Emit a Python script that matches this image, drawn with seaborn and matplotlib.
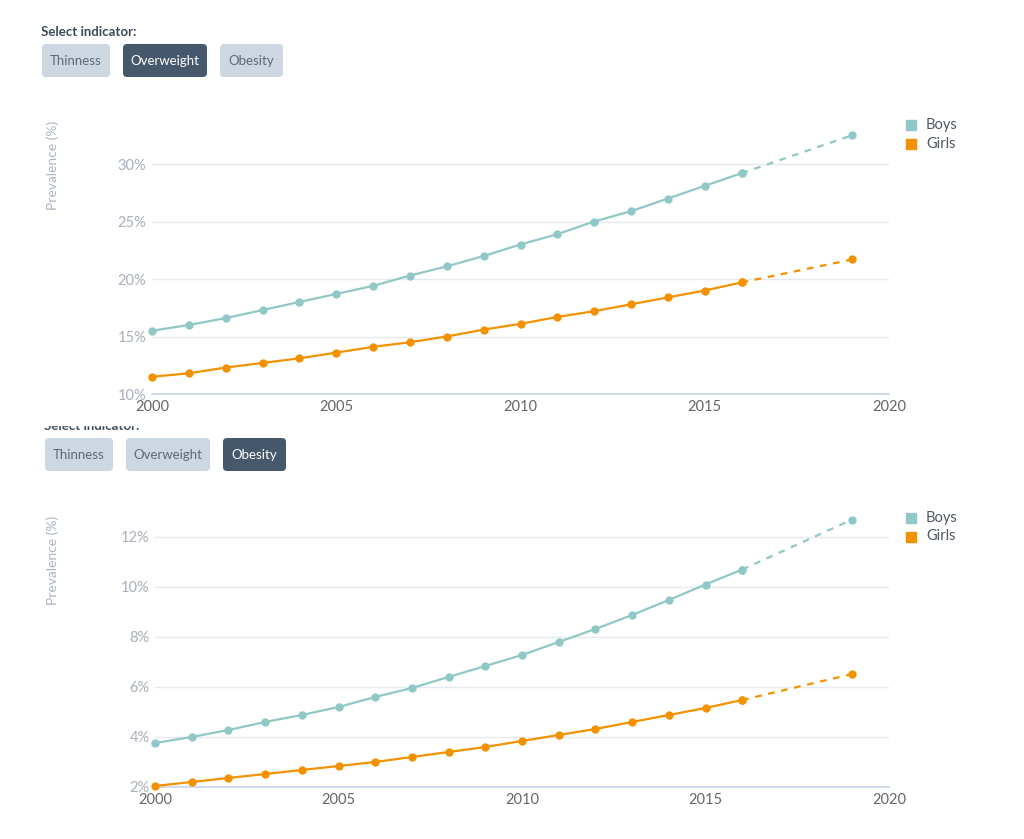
import matplotlib
matplotlib.use("Agg")
import matplotlib.pyplot as plt
import seaborn as sns
from matplotlib.patches import FancyBboxPatch, Rectangle

# data
years = list(range(2000, 2017))
proj_years = [2016, 2019]

overweight_boys = [15.5, 16.0, 16.6, 17.3, 18.0, 18.7, 19.4, 20.3, 21.1, 22.0,
                   23.0, 23.9, 25.0, 25.9, 27.0, 28.1, 29.2]
overweight_girls = [11.5, 11.8, 12.3, 12.7, 13.1, 13.6, 14.1, 14.5, 15.0, 15.6,
                    16.1, 16.7, 17.2, 17.8, 18.4, 19.0, 19.7]
overweight_boys_2019 = 32.5
overweight_girls_2019 = 21.7

obesity_boys = [3.76, 4.0, 4.28, 4.6, 4.88, 5.2, 5.6, 5.96, 6.4, 6.84,
                7.28, 7.8, 8.32, 8.88, 9.48, 10.1, 10.7]
obesity_girls = [2.04, 2.2, 2.36, 2.52, 2.68, 2.84, 3.0, 3.2, 3.4, 3.6,
                 3.84, 4.08, 4.32, 4.6, 4.88, 5.16, 5.48]
obesity_boys_2019 = 12.7
obesity_girls_2019 = 6.52

buttons = ["Thinness", "Overweight", "Obesity"]
x_ticks = [2000, 2005, 2010, 2015, 2020]
ow_ticks = [10, 15, 20, 25, 30]
ob_ticks = [2, 4, 6, 8, 10, 12]

BOYS = "#8fc8c6"
GIRLS = "#f39200"
W, H = 1024, 839

sns.set_theme(style="white")
plt.rcParams["font.family"] = ["Lato", "DejaVu Sans"]

fig = plt.figure(figsize=(W / 100, H / 100), dpi=100)


def px_box(x0, y0, x1, y1):
    # pixel rectangle (top-left origin) -> figure fraction [l, b, w, h]
    return [x0 / W, 1 - y1 / H, (x1 - x0) / W, (y1 - y0) / H]


def draw_buttons(top, left, active):
    fig.text(left / W, 1 - (top - 12) / H, "Select indicator:", fontsize=9.5,
             fontweight="bold", color="#3d4a5c", va="center", ha="left")
    x = left + 1
    widths = [68, 84, 63]
    for name, w in zip(buttons, widths):
        on = name == active
        box = FancyBboxPatch((x / 100, (H - top - 33) / 100), w / 100, 33 / 100,
                             boxstyle="round,pad=0,rounding_size=0.04",
                             transform=fig.dpi_scale_trans,
                             facecolor="#46596c" if on else "#cdd7e1",
                             edgecolor="none")
        fig.patches.append(box)
        fig.text((x + w / 2) / W, 1 - (top + 17) / H, name, fontsize=9.5,
                 color="white" if on else "#5d6878", ha="center", va="center")
        x += w + 13


def draw_panel(rect, boys, girls, boys_p, girls_p, ylim, yticks, ylab_y, legend_y):
    ax = fig.add_axes(rect)
    sns.lineplot(x=years, y=boys, color=BOYS, lw=1.6, marker="o", ms=6,
                 markeredgewidth=0, ax=ax, clip_on=False, zorder=3)
    sns.lineplot(x=years, y=girls, color=GIRLS, lw=1.6, marker="o", ms=6,
                 markeredgewidth=0, ax=ax, clip_on=False, zorder=3)
    sns.lineplot(x=proj_years, y=[boys[-1], boys_p], color=BOYS, lw=1.6,
                 linestyle=(0, (3, 3)), marker="o", ms=6, markeredgewidth=0,
                 ax=ax, clip_on=False, zorder=3)
    sns.lineplot(x=proj_years, y=[girls[-1], girls_p], color=GIRLS, lw=1.6,
                 linestyle=(0, (3, 3)), marker="o", ms=6, markeredgewidth=0,
                 ax=ax, clip_on=False, zorder=3)
    ax.set_xlim(2000, 2020)
    ax.set_ylim(*ylim)
    ax.set_xticks(x_ticks)
    ax.set_yticks(yticks)
    ax.set_yticklabels([f"{t}%" for t in yticks])
    ax.grid(axis="y", color="#e6e9f0", lw=1)
    ax.set_axisbelow(True)
    for s in ["left", "top", "right"]:
        ax.spines[s].set_visible(False)
    ax.spines["bottom"].set_color("#ccd6eb")
    ax.tick_params(axis="x", length=0, pad=4, labelsize=10.5, labelcolor="#666666")
    ax.tick_params(axis="y", length=0, pad=4, labelsize=10.5, labelcolor="#a8afba")
    ax.set_xlabel("")
    ax.set_ylabel("")
    fig.text(53 / W, 1 - ylab_y / H, "Prevalence (%)", rotation=90, fontsize=10,
             color="#a9b4c4", ha="center", va="center")
    for i, (lab, col) in enumerate([("Boys", BOYS), ("Girls", GIRLS)]):
        y = legend_y + i * 18.5
        fig.patches.append(Rectangle((906 / W, 1 - (y + 5) / H), 10 / W, 10 / H,
                                     transform=fig.transFigure, color=col))
        fig.text(926 / W, 1 - y / H, lab, fontsize=10.5, color="#4e5766",
                 ha="left", va="center")
    return ax


draw_buttons(44, 41, "Overweight")
draw_panel(px_box(152, 120, 889, 394), overweight_boys, overweight_girls,
           overweight_boys_2019, overweight_girls_2019,
           (10, 10 + (394 - 120) / 11.5), ow_ticks, 165, 125)

draw_buttons(438, 44, "Obesity")
# the top of the second "Select indicator:" is cut off in the reference
fig.patches.append(Rectangle((0, 1 - 425 / H), 300 / W, 10 / H,
                             transform=fig.transFigure, color="white", zorder=5))
draw_panel(px_box(155, 510, 889, 787), obesity_boys, obesity_girls,
           obesity_boys_2019, obesity_girls_2019,
           (2, 2 + (787 - 510) / 25), ob_ticks, 560, 518)

fig.savefig("out.png", dpi=100)
